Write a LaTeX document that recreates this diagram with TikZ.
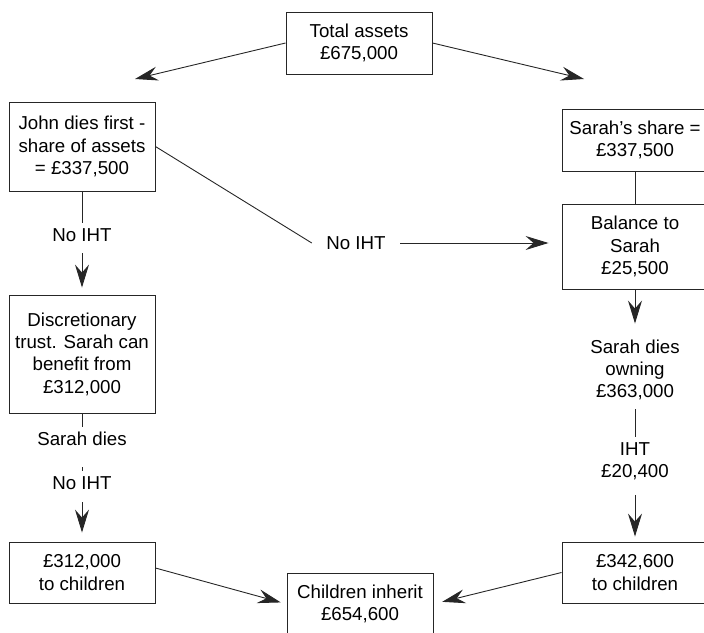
\documentclass[tikz,border=0pt]{standalone}
\usepackage{fontspec}
\setmainfont{Liberation Sans}
\usetikzlibrary{arrows.meta}

\begin{document}
\begin{tikzpicture}[x=1pt,y=-1pt,
    box/.style={draw=black!85,line width=0.9pt,align=center,minimum width=146pt,
        font=\fontsize{18.7}{22.3}\selectfont},
    lbl/.style={align=center,inner sep=5pt,font=\fontsize{18.7}{22.3}\selectfont},
    conn/.style={draw=black!85,line width=0.9pt},
    arr/.style={conn,-{Stealth[length=23pt,width=14pt,inset=8pt]}}]
  \useasboundingbox (0,0) rectangle (704,632);
  % boxes
  \node[box,minimum height=62pt] (total) at (359,43) {Total assets\\£675,000};
  \node[box,minimum height=89pt] (john) at (82,146.5) {John dies first -\\share of assets\\= £337,500};
  \node[box,minimum height=62pt] (share) at (635,140) {Sarah’s share =\\£337,500};
  \node[box,minimum height=85pt] (balance) at (635,246.5) {Balance to\\Sarah\\£25,500};
  \node[box,minimum height=118pt] (trust) at (82,354) {Discretionary\\trust. Sarah can\\benefit from\\£312,000};
  \node[box,minimum height=61pt] (leftkids) at (82,572.5) {£312,000\\to children};
  \node[box,minimum height=61pt] (rightkids) at (635,572.5) {£342,600\\to children};
  \node[box,minimum height=62pt] (inherit) at (360,604) {Children inherit\\£654,600};
  % labels on the connectors
  \node[lbl] (noihtleft) at (82,235) {No IHT};
  \node[lbl,inner xsep=14.4pt] (noihtmid) at (356,243) {No IHT};
  \node[lbl] (owning) at (635,370) {Sarah dies\\owning\\£363,000};
  \node[lbl] (iht) at (635,461) {IHT\\£20,400};
  \node[lbl] (sarahdies) at (82,439) {Sarah dies};
  \node[lbl] (noihtlow) at (82,483) {No IHT};
  \coordinate (splitl) at (135,79);
  \coordinate (splitr) at (584,79);
  % connectors
  \draw[arr] (total.west) -- (splitl);
  \draw[arr] (total.east) -- (splitr);
  \draw[conn] (john.south) -- (noihtleft.north);
  \draw[arr,shorten <=6.5pt,shorten >=7pt] (noihtleft.south) -- (trust.north);
  \draw[conn] (john.east) -- (noihtmid.west);
  \draw[arr,shorten >=13pt] (noihtmid.east) -- (noihtmid.east -| balance.west);
  \draw[conn] (share.south) -- (balance.north);
  \draw[arr,shorten >=11pt] (balance.south) -- (owning.north);
  \draw[conn,shorten <=4pt] (owning.south) -- (iht.north);
  \draw[arr,shorten <=10pt,shorten >=5pt] (iht.south) -- (rightkids.north);
  \draw[conn] (trust.south) -- (sarahdies.north);
  \draw[conn,shorten <=16pt] (sarahdies.south) -- (noihtlow.north);
  \draw[arr,shorten <=7.5pt,shorten >=9pt] (noihtlow.south) -- (leftkids.north);
  \draw[arr,shorten >=6pt] ([yshift=4.5pt]leftkids.east) -- (inherit.west);
  \draw[arr,shorten >=9pt] (rightkids.west) -- (inherit.east);
\end{tikzpicture}
\end{document}
